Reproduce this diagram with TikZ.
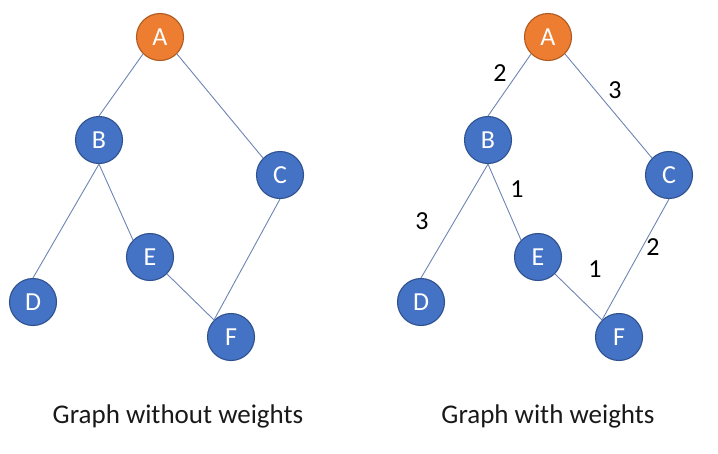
\documentclass[tikz,border=0pt]{standalone}
\usepackage{fontspec}
\setmainfont{Carlito}
\definecolor{nodeblue}{HTML}{4472C4}
\definecolor{nodeblueline}{HTML}{2F528F}
\definecolor{nodeorange}{HTML}{ED7D31}
\definecolor{nodeorangeline}{HTML}{AE5A21}
\definecolor{edgecol}{HTML}{6E84B4}
\tikzset{
  vert/.style={circle, minimum size=47pt, inner sep=0pt, fill=nodeblue, draw=nodeblueline,
    line width=1.1pt, text=white, font=\fontsize{26}{26}\selectfont},
  root/.style={vert, fill=nodeorange, draw=nodeorangeline},
  edge/.style={draw=edgecol, line width=0.9pt},
  weight/.style={font=\fontsize{26}{26}\selectfont, text=black},
  caption/.style={font=\fontsize{27}{27}\selectfont, text=black!90}
}
\begin{document}
\begin{tikzpicture}[x=1pt, y=-1pt]
\useasboundingbox (0,0) rectangle (718,453);
% unweighted graph
\node[root] (A1) at (160,37) {A};
\node[vert] (B1) at (99,140) {B};
\node[vert] (C1) at (280,175) {C};
\node[vert] (D1) at (33,302) {D};
\node[vert] (E1) at (150,257) {E};
\node[vert] (F1) at (231,337) {F};
\draw[edge] (A1.225) -- (B1.north);
\draw[edge] (A1.315) -- (C1.135);
\draw[edge] (B1.south) -- (D1.north);
\draw[edge] (B1.south) -- (E1.135);
\draw[edge] (E1.315) -- (F1.135);
\draw[edge] (C1.south) -- (F1.135);
\node[caption] (cap1) at (178,416) {Graph without weights};
% weighted graph
\node[root] (A2) at (548,37) {A};
\node[vert] (B2) at (488,140) {B};
\node[vert] (C2) at (669,175) {C};
\node[vert] (D2) at (421,302) {D};
\node[vert] (E2) at (538,257) {E};
\node[vert] (F2) at (619,337) {F};
\draw[edge] (A2.225) -- (B2.north);
\draw[edge] (A2.315) -- (C2.135);
\draw[edge] (B2.south) -- (D2.north);
\draw[edge] (B2.south) -- (E2.135);
\draw[edge] (E2.315) -- (F2.135);
\draw[edge] (C2.south) -- (F2.135);
\node[weight] (wAB) at (500,73) {2};
\node[weight] (wAC) at (615,90) {3};
\node[weight] (wBE) at (517,189) {1};
\node[weight] (wBD) at (422,221) {3};
\node[weight] (wEF) at (595,269) {1};
\node[weight] (wCF) at (653,247) {2};
\node[caption] (cap2) at (548,416) {Graph with weights};
\end{tikzpicture}
\end{document}
